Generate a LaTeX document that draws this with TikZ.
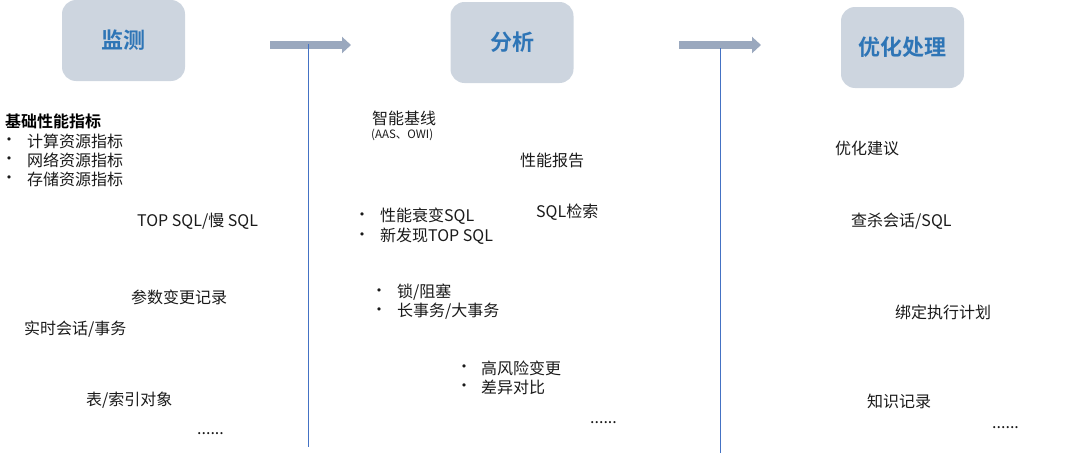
\documentclass[tikz,border=0pt]{standalone}
\usepackage{fontspec}
\setmainfont{Noto Sans CJK SC}
\newfontfamily\cjkbold{Noto Sans CJK SC Bold}
\newfontfamily\dvfont{DejaVu Sans}
\usetikzlibrary{arrows.meta}
\definecolor{boxfill}{HTML}{CDD5DF}
\definecolor{titleblue}{HTML}{2E75B6}
\definecolor{arrowgray}{HTML}{9AA8BE}
\definecolor{lineblue}{HTML}{4472C4}
\definecolor{txt}{HTML}{1A1A1A}
\tikzset{
  stage/.style={fill=boxfill, rounded corners=14pt, minimum width=123pt, minimum height=81pt, inner sep=0pt,
    font=\cjkbold\fontsize{22}{26}\selectfont, text=titleblue},
  item/.style={anchor=west, inner sep=0pt, font=\fontsize{16}{19}\selectfont, text=txt, align=left},
  bulletmark/.style={anchor=center, inner sep=0pt, font=\dvfont\fontsize{11}{11}\selectfont, text=txt},
  small/.style={anchor=west, inner sep=0pt, font=\fontsize{11.5}{12}\selectfont, text=txt},
  flow/.style={arrowgray, line width=8pt, -{Triangle[length=9pt,width=16pt]}},
  divider/.style={lineblue, line width=0.9pt}
}
\begin{document}
\begin{tikzpicture}[x=1pt,y=-1pt]
\useasboundingbox (0,0) rectangle (1080,455);
% stage boxes
\node[stage] (mon) at (123.5,40.5) {监测};
\node[stage] (ana) at (512,42.5) {分析};
\node[stage] (opt) at (902.5,47.5) {优化处理};
% flow arrows
\coordinate (a1s) at (270,45);
\coordinate (a1e) at (351,45);
\coordinate (a2s) at (679,45);
\coordinate (a2e) at (761,45);
\draw[flow] (a1s) -- (a1e);
\draw[flow] (a2s) -- (a2e);
% dividers
\coordinate (d1t) at (308,44);
\coordinate (d1b) at (308,447);
\coordinate (d2t) at (720,48);
\coordinate (d2b) at (720,453);
\draw[divider] (d1t) -- (d1b);
\draw[divider] (d2t) -- (d2b);
% monitoring column
\node[item, font=\cjkbold\fontsize{16}{19}\selectfont, text=black] (m0) at (5,121) {基础性能指标};
\node[bulletmark] (b1) at (9,141) {•};
\node[item] (m1a) at (27,141) {计算资源指标};
\node[bulletmark] (b2) at (9,160) {•};
\node[item] (m1b) at (27,160) {网络资源指标};
\node[bulletmark] (b3) at (9,179) {•};
\node[item] (m1c) at (27,179) {存储资源指标};
\node[item] (m2) at (137,221) {TOP SQL/慢 SQL};
\node[item] (m3) at (131,297) {参数变更记录};
\node[item] (m4) at (24,329) {实时会话/事务};
\node[item] (m5) at (86,400) {表/索引对象};
\node[item] (m6) at (197,434) {......};
% analysis column
\node[item] (n1) at (372,118) {智能基线};
\node[small] (n1b) at (371,135) {(AAS、OWI)};
\node[item] (n2) at (520,160) {性能报告};
\node[bulletmark] (b4) at (362,216) {•};
\node[item] (n3a) at (380,216) {性能衰变SQL};
\node[bulletmark] (b5) at (362,236) {•};
\node[item] (n3b) at (380,236) {新发现TOP SQL};
\node[item] (n4) at (536,212) {SQL检索};
\node[bulletmark] (b6) at (379,292) {•};
\node[item] (n5a) at (397,292) {锁/阻塞};
\node[bulletmark] (b7) at (379,311) {•};
\node[item] (n5b) at (397,311) {长事务/大事务};
\node[bulletmark] (b8) at (464,368) {•};
\node[item] (n6a) at (481,368) {高风险变更};
\node[bulletmark] (b9) at (464,387) {•};
\node[item] (n6b) at (481,387) {差异对比};
\node[item] (n7) at (590,423) {......};
% optimisation column
\node[item] (o1) at (835,148) {优化建议};
\node[item] (o2) at (851,221) {查杀会话/SQL};
\node[item] (o3) at (895,312) {绑定执行计划};
\node[item] (o4) at (867,401) {知识记录};
\node[item] (o5) at (992,428) {......};
\end{tikzpicture}
\end{document}
